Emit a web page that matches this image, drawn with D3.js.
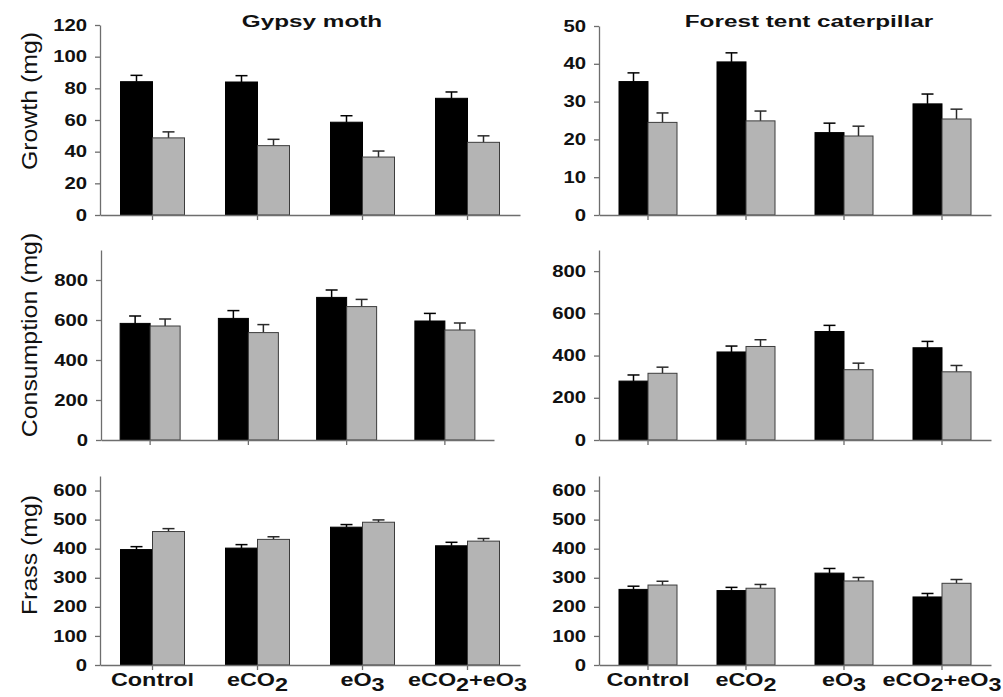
<!DOCTYPE html>
<html><head><meta charset="utf-8">
<script src="https://cdn.jsdelivr.net/npm/d3@7"></script>
<style>body{margin:0;background:#fff}svg{display:block}text{font-family:Arial,"Liberation Sans",Helvetica,sans-serif}</style>
</head><body><svg id="c" width="1003" height="697"></svg>
<script>
// ---------- data ----------
const categories = ["Control", "eCO2", "eO3", "eCO2+eO3"];
const columnTitles = ["Gypsy moth", "Forest tent caterpillar"];
const rowLabels = ["Growth (mg)", "Consumption (mg)", "Frass (mg)"];

// Gypsy moth – growth
const gmGrowthBlack = [84.2, 84.0, 58.6, 73.7];
const gmGrowthBlackErr = [4.0, 4.0, 4.1, 4.0];
const gmGrowthGray = [48.7, 43.8, 36.6, 45.9];
const gmGrowthGrayErr = [3.8, 4.0, 3.8, 4.1];
// Forest tent caterpillar – growth
const ftcGrowthBlack = [35.3, 40.5, 21.8, 29.4];
const ftcGrowthBlackErr = [2.3, 2.4, 2.5, 2.6];
const ftcGrowthGray = [24.5, 24.9, 20.9, 25.4];
const ftcGrowthGrayErr = [2.5, 2.6, 2.6, 2.6];
// Gypsy moth – consumption
const gmConsBlack = [583, 608, 713, 595];
const gmConsBlackErr = [37, 39, 37, 38];
const gmConsGray = [570, 537, 667, 550];
const gmConsGrayErr = [35, 40, 36, 35];
// Forest tent caterpillar – consumption
const ftcConsBlack = [279, 417, 514, 437];
const ftcConsBlackErr = [29, 28, 29, 30];
const ftcConsGray = [316, 443, 333, 323];
const ftcConsGrayErr = [29, 32, 31, 30];
// Gypsy moth – frass
const gmFrassBlack = [397, 402, 474, 410];
const gmFrassBlackErr = [10, 12, 9, 12];
const gmFrassGray = [459, 432, 491, 426];
const gmFrassGrayErr = [10, 9, 8, 9];
// Forest tent caterpillar – frass
const ftcFrassBlack = [260, 256, 316, 234];
const ftcFrassBlackErr = [11, 11, 16, 12];
const ftcFrassGray = [275, 264, 289, 281];
const ftcFrassGrayErr = [13, 13, 12, 13];

// axis tick values
const growthGmTicks = [0, 20, 40, 60, 80, 100, 120];
const growthFtcTicks = [0, 10, 20, 30, 40, 50];
const consTicks = [0, 200, 400, 600, 800];
const frassTicks = [0, 100, 200, 300, 400, 500, 600];

// ---------- layout ----------
const svg = d3.select("#c");
const AXIS = "#6e6e6e";
const GRAY = "#b4b4b4";

const panels = [
  {bk: gmGrowthBlack, bkE: gmGrowthBlackErr, gr: gmGrowthGray, grE: gmGrowthGrayErr,
   yMax: 120, ticks: growthGmTicks, x0: 100, x1: 520, yb: 215, yt: 25, bw: 32},
  {bk: ftcGrowthBlack, bkE: ftcGrowthBlackErr, gr: ftcGrowthGray, grE: ftcGrowthGrayErr,
   yMax: 50, ticks: growthFtcTicks, x0: 599, x1: 991, yb: 215, yt: 26, bw: 29},
  {bk: gmConsBlack, bkE: gmConsBlackErr, gr: gmConsGray, grE: gmConsGrayErr,
   yMax: 950, ticks: consTicks, x0: 101, x1: 494, yb: 440, yt: 250, bw: 30},
  {bk: ftcConsBlack, bkE: ftcConsBlackErr, gr: ftcConsGray, grE: ftcConsGrayErr,
   yMax: 900, ticks: consTicks, x0: 599, x1: 991, yb: 440, yt: 250, bw: 29},
  {bk: gmFrassBlack, bkE: gmFrassBlackErr, gr: gmFrassGray, grE: gmFrassGrayErr,
   yMax: 650, ticks: frassTicks, x0: 100, x1: 520, yb: 665, yt: 476, bw: 32, labels: true},
  {bk: ftcFrassBlack, bkE: ftcFrassBlackErr, gr: ftcFrassGray, grE: ftcFrassGrayErr,
   yMax: 650, ticks: frassTicks, x0: 599, x1: 991, yb: 665, yt: 476, bw: 29, labels: true}
];

const TICK_SCALE = 1.27;

panels.forEach(p => {
  const x = d3.scaleBand().domain(categories).range([p.x0, p.x1]);
  const y = d3.scaleLinear().domain([0, p.yMax]).range([p.yb, p.yt]);
  const cx = c => x(c) + x.bandwidth() / 2;
  const g = svg.append("g");

  const series = [
    {vals: p.bk, errs: p.bkE, fill: "#000", stroke: "#000", off: -p.bw, ec: "#000"},
    {vals: p.gr, errs: p.grE, fill: GRAY, stroke: "#3c3c3c", off: 0, ec: "#2a2a2a"}
  ];
  series.forEach(s => {
    const data = categories.map((c, i) => ({c, v: s.vals[i], e: s.errs[i]}));
    const eg = g.append("g").attr("stroke", s.ec).attr("stroke-width", 1.5);
    eg.selectAll("line.v").data(data).join("line").attr("class", "v")
      .attr("x1", d => cx(d.c) + s.off + p.bw / 2).attr("x2", d => cx(d.c) + s.off + p.bw / 2)
      .attr("y1", d => y(d.v)).attr("y2", d => y(d.v + d.e));
    eg.selectAll("line.cap").data(data).join("line").attr("class", "cap")
      .attr("x1", d => cx(d.c) + s.off + p.bw / 2 - 6).attr("x2", d => cx(d.c) + s.off + p.bw / 2 + 6)
      .attr("y1", d => y(d.v + d.e)).attr("y2", d => y(d.v + d.e));
    g.append("g").selectAll("rect").data(data).join("rect")
      .attr("x", d => cx(d.c) + s.off).attr("width", p.bw)
      .attr("y", d => y(d.v)).attr("height", d => y(0) - y(d.v))
      .attr("fill", s.fill).attr("stroke", s.stroke).attr("stroke-width", 1);
  });

  // y axis
  const ya = g.append("g").attr("transform", `translate(${p.x0},0)`)
    .call(d3.axisLeft(y).tickValues(p.ticks).tickSize(5).tickSizeOuter(0).tickFormat(d3.format("d")));
  ya.select(".domain").attr("stroke", AXIS).attr("stroke-width", 1.3);
  ya.selectAll(".tick line").attr("stroke", AXIS).attr("stroke-width", 1.3);
  ya.selectAll(".tick text")
    .attr("x", -13 / TICK_SCALE).attr("transform", `scale(${TICK_SCALE},1)`)
    .attr("font-size", 16).attr("font-weight", "bold").attr("fill", "#111")
    .attr("font-family", "Arial, 'Liberation Sans', sans-serif");

  // x axis
  const xa = g.append("g").attr("transform", `translate(0,${p.yb})`)
    .call(d3.axisBottom(x).tickSize(5).tickSizeOuter(0).tickFormat(""));
  xa.select(".domain").attr("stroke", AXIS).attr("stroke-width", 1.3);
  xa.selectAll(".tick line").attr("stroke", AXIS).attr("stroke-width", 1.3);

  if (p.labels) {
    categories.forEach(c => {
      const t = svg.append("text")
        .attr("transform", `translate(${cx(c)},686) scale(1.3,1)`)
        .attr("text-anchor", "middle").attr("font-size", 18).attr("font-weight", "bold").attr("fill", "#111");
      // split into normal and subscript parts
      const parts = c.match(/[^0-9]+|[0-9]+/g);
      parts.forEach(part => {
        const isSub = /^[0-9]+$/.test(part);
        t.append("tspan").text(part)
          .attr("dy", isSub ? "0.3em" : (t.selectAll("tspan").size() > 1 ? "-0.3em" : null));
      });
    });
  }
});

// column titles
[312, 809].forEach((xc, i) => {
  svg.append("text").attr("transform", `translate(${xc},27) scale(1.43,1)`)
    .attr("text-anchor", "middle").attr("font-size", 17).attr("font-weight", "bold").attr("fill", "#111")
    .text(columnTitles[i]);
});

// row labels
[101, 335, 555].forEach((yc, i) => {
  svg.append("text").attr("transform", `translate(37,${yc}) rotate(-90) scale(1.13,1)`)
    .attr("text-anchor", "middle").attr("font-size", 22).attr("fill", "#111")
    .text(rowLabels[i]);
});
</script></body></html>
